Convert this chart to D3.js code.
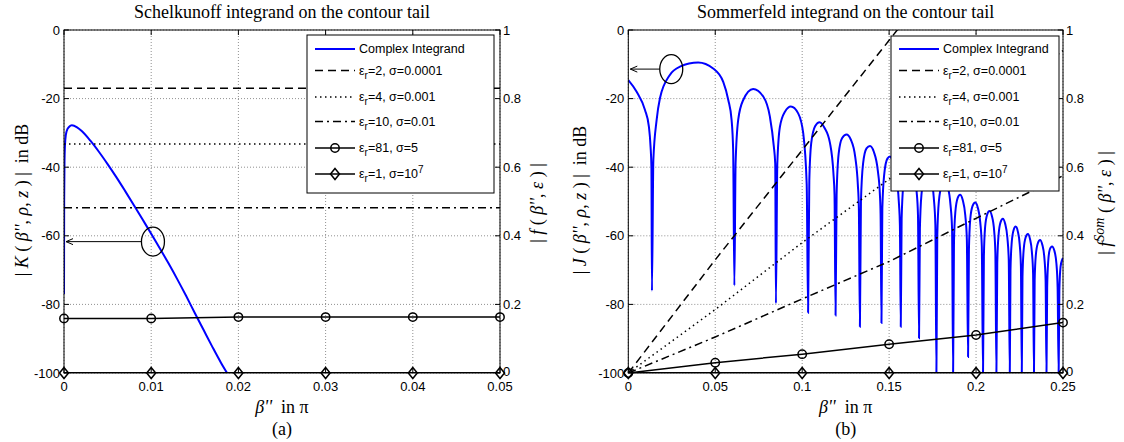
<!DOCTYPE html>
<html><head><meta charset="utf-8">
<script src="https://cdn.jsdelivr.net/npm/d3@7"></script>
<style>body{margin:0;background:#fff} svg{display:block} text{white-space:pre}</style>
</head><body>
<svg id="chart" width="1124" height="442"></svg>
<script>
// ---------------- DATA ----------------
const xTicksA = [0, 0.01, 0.02, 0.03, 0.04, 0.05];
const xTickLabelsA = ["0", "0.01", "0.02", "0.03", "0.04", "0.05"];
const xTicksB = [0, 0.05, 0.1, 0.15, 0.2, 0.25];
const xTickLabelsB = ["0", "0.05", "0.1", "0.15", "0.2", "0.25"];
const dbTicks = [0, -20, -40, -60, -80, -100];
const dbTickLabels = ["0", "-20", "-40", "-60", "-80", "-100"];
const fTicks = [0, 0.2, 0.4, 0.6, 0.8, 1];
const fTickLabels = ["0", "0.2", "0.4", "0.6", "0.8", "1"];

const titles = ["Schelkunoff integrand on the contour tail", "Sommerfeld integrand on the contour tail"];
const subLabels = ["(a)", "(b)"];

const legendFirst = "Complex Integrand";
const legendEr = ["2", "4", "10", "81", "1"];
const legendSigma = ["0.0001", "0.001", "0.01", "5", "10"];
const legendSigmaExp = ["", "", "", "", "7"];

// Panel (a): Schelkunoff integrand, |K| in dB (left axis)
const schelkunoffCurve = [
  [0, -77], [0.00002, -50], [0.00006, -38], [0.00015, -32], [0.0003, -29.5], [0.0006, -28.2],
  [0.0009, -27.8], [0.0015, -28.4], [0.002, -29.4], [0.003, -32.2], [0.004, -35.5], [0.005, -39.1],
  [0.006, -42.9], [0.007, -46.9], [0.008, -51.0], [0.009, -55.2], [0.010, -59.4], [0.011, -63.7],
  [0.012, -68.1], [0.013, -72.7], [0.014, -77.5], [0.015, -82.5], [0.016, -87.4], [0.017, -92.3],
  [0.018, -97], [0.0187, -100]
];
// Panel (a): |f(beta'',eps)| (right axis)
const schelkFX = [0, 0.01, 0.02, 0.03, 0.04, 0.05];
const schelkFEr2 = [0.83, 0.83, 0.83, 0.83, 0.83, 0.83];
const schelkFEr4 = [0.668, 0.668, 0.668, 0.668, 0.668, 0.668];
const schelkFEr10 = [0.482, 0.482, 0.482, 0.482, 0.482, 0.482];
const schelkFEr81 = [0.159, 0.159, 0.163, 0.163, 0.163, 0.163];
const schelkFEr1 = [0, 0, 0, 0, 0, 0];

// Panel (b): Sommerfeld integrand, |J| in dB (left axis)
const sommerfeldCurve = [
  [0, -14.6], [0.0048, -18], [0.0096, -23.3], [0.0118, -28], [0.0128, -34], [0.0133, -40], [0.0136, -76],
  [0.0144, -38], [0.0163, -26.2], [0.0182, -19.9], [0.0239, -13.1], [0.0297, -10.7], [0.0402, -9.5], [0.0488, -11.2], [0.0546, -15.1], [0.0575, -20.4], [0.0594, -26.2], [0.0603, -35], [0.061, -74.5],
  [0.0617, -39], [0.0632, -26.2], [0.0661, -20.4], [0.0718, -17.2], [0.0776, -19.4], [0.0814, -25.2], [0.0837, -34], [0.0845, -39], [0.0849, -79.7],
  [0.0857, -39], [0.0872, -28.2], [0.0901, -23.8], [0.0935, -22.3], [0.0977, -24.3], [0.1006, -30.1], [0.1026, -45], [0.1034, -82.4],
  [0.1041, -44], [0.1052, -33], [0.1075, -28], [0.110, -26.9], [0.1128, -28.5], [0.1160, -33], [0.1180, -42], [0.1186, -48], [0.1192, -83.2],
  [0.1198, -48], [0.1210, -36], [0.1230, -31.5], [0.1255, -30.5], [0.1280, -32], [0.1305, -37], [0.1320, -45], [0.1326, -52], [0.1332, -86.5],
  [0.1338, -50], [0.1350, -39], [0.1370, -34.5], [0.1390, -33.8], [0.1412, -35.5], [0.1435, -41], [0.1447, -48], [0.1451, -54], [0.1456, -85.4],
  [0.1461, -52], [0.1472, -42], [0.1490, -37.5], [0.1505, -36.9], [0.1522, -38.5], [0.1545, -44], [0.1557, -51], [0.1562, -57], [0.1567, -86.5],
  [0.1572, -55], [0.1582, -45], [0.1600, -40.2], [0.1620, -39.5], [0.1640, -41], [0.1658, -47], [0.1666, -54], [0.1672, -89.9],
  [0.1677, -58], [0.1686, -48], [0.1703, -43], [0.1722, -42], [0.1741, -43.5], [0.1757, -49], [0.1766, -57], [0.1772, -100],
  [0.1777, -60], [0.1786, -50], [0.1802, -45.5], [0.1820, -44.5], [0.1838, -46], [0.1853, -51], [0.1862, -58], [0.1868, -100],
  [0.1873, -62], [0.1881, -53], [0.1894, -49], [0.1908, -48], [0.1923, -49.5], [0.1938, -54], [0.1947, -61], [0.1954, -95.3],
  [0.1959, -64], [0.1967, -55], [0.1980, -51.3], [0.1995, -50.3], [0.2010, -51.8], [0.2024, -56], [0.2033, -63], [0.2040, -100],
  [0.2045, -66], [0.2052, -57.5], [0.2064, -53.8], [0.2077, -52.8], [0.2091, -54.2], [0.2104, -58.5], [0.2111, -65], [0.2117, -100],
  [0.2122, -68], [0.2129, -60], [0.2141, -56], [0.2154, -55], [0.2167, -56.4], [0.2180, -60.5], [0.2188, -67], [0.2194, -100],
  [0.2198, -70], [0.2205, -62], [0.2216, -58.3], [0.2228, -57.3], [0.2240, -58.7], [0.2251, -62.5], [0.2258, -69], [0.2263, -100],
  [0.2267, -72], [0.2274, -64], [0.2285, -60.5], [0.2298, -59.5], [0.2310, -60.9], [0.2321, -64.7], [0.2328, -71], [0.2333, -100],
  [0.2337, -73], [0.2344, -65.5], [0.2355, -62.2], [0.2368, -61.2], [0.2381, -62.6], [0.2393, -66.5], [0.2400, -73], [0.2405, -100],
  [0.2409, -75], [0.2415, -67.5], [0.2424, -64], [0.2437, -63.1], [0.2450, -64.3], [0.2462, -68], [0.2469, -75], [0.2475, -100],
  [0.2479, -76], [0.2486, -69], [0.2495, -67], [0.25, -66.5]
];
// Panel (b): |f^Som(beta'',eps)| (right axis)
const somFX = [0, 0.05, 0.1, 0.15, 0.2, 0.25];
const somFEr2 = [0, 0.33, 0.65, 0.97, 1.29, 1.61];
const somFEr4 = [0, 0.185, 0.38, 0.565, 0.75, 0.94];
const somFEr10 = [0, 0.105, 0.216, 0.325, 0.451, 0.575];
const somFEr81 = [0, 0.03, 0.055, 0.084, 0.111, 0.147];
const somFEr1 = [0, 0, 0, 0, 0, 0];

// annotation targets (data coords: beta, dB)
const annotA = [0.0102, -61.7];
const annotB = [0.0247, -11.4];

// ---------------- DRAW ----------------
const svg = d3.select("#chart");
const SERIF = "'Times New Roman', 'Liberation Serif', serif";
const SANS = "Arial, 'Liberation Sans', sans-serif";
const TOP = 30, BOT = 373;
const dashStyles = ["8,5", "1.5,3.5", "8,4,2,4", null, null];

const panels = [
  { x0: 64, x1: 500, domain: [0, 0.05], xt: xTicksA, xl: xTickLabelsA, curve: schelkunoffCurve,
    fx: schelkFX, f: [schelkFEr2, schelkFEr4, schelkFEr10, schelkFEr81, schelkFEr1],
    leg: { x: 307, y: 35, w: 187, h: 158, l1: 315, l2: 355, tx: 359 },
    annot: annotA, letter: "K", som: false, lblL: 22, lblR: 537 },
  { x0: 628.3, x1: 1063, domain: [0, 0.25], xt: xTicksB, xl: xTickLabelsB, curve: sommerfeldCurve,
    fx: somFX, f: [somFEr2, somFEr4, somFEr10, somFEr81, somFEr1],
    leg: { x: 891, y: 36, w: 168, h: 155, l1: 899, l2: 939, tx: 943 },
    annot: annotB, letter: "J", som: true, lblL: 580, lblR: 1105 }
];
const legRows = [49, 70.5, 97, 121.5, 148, 174];

const defs = svg.append("defs");

function diamondPath(cx, cy) {
  return `M${cx},${cy - 5.5}L${cx + 4.5},${cy}L${cx},${cy + 5.5}L${cx - 4.5},${cy}Z`;
}

panels.forEach((p, pi) => {
  const x = d3.scaleLinear().domain(p.domain).range([p.x0, p.x1]);
  const yDb = d3.scaleLinear().domain([-100, 0]).range([BOT, TOP]);
  const yF = d3.scaleLinear().domain([0, 1]).range([BOT, TOP]);
  const g = svg.append("g");

  defs.append("clipPath").attr("id", "clip" + pi).append("rect")
    .attr("x", p.x0).attr("y", TOP).attr("width", p.x1 - p.x0).attr("height", BOT - TOP);

  // grid
  const grid = g.append("g").attr("stroke", "#444").attr("stroke-width", 0.6).attr("stroke-dasharray", "1,2");
  p.xt.forEach(t => grid.append("line").attr("x1", x(t)).attr("x2", x(t)).attr("y1", TOP).attr("y2", BOT));
  dbTicks.forEach(t => grid.append("line").attr("x1", p.x0).attr("x2", p.x1).attr("y1", yDb(t)).attr("y2", yDb(t)));

  const clipG = g.append("g").attr("clip-path", `url(#clip${pi})`);
  // blue complex integrand
  clipG.append("path").datum(p.curve)
    .attr("d", d3.line().x(d => x(d[0])).y(d => yDb(d[1])).curve(d3.curveMonotoneX))
    .attr("fill", "none").attr("stroke", "#0000ff").attr("stroke-width", 2);
  // black f series
  p.f.forEach((vals, si) => {
    const pts = p.fx.map((v, i) => [v, vals[i]]);
    clipG.append("path").datum(pts)
      .attr("d", d3.line().x(d => x(d[0])).y(d => yF(d[1])))
      .attr("fill", "none").attr("stroke", "#000").attr("stroke-width", si === 4 ? 2 : 1.5)
      .attr("stroke-dasharray", dashStyles[si]);
  });
  // markers
  p.fx.forEach((v, i) => {
    g.append("circle").attr("cx", x(v)).attr("cy", yF(p.f[3][i])).attr("r", 4.2)
      .attr("fill", "none").attr("stroke", "#000").attr("stroke-width", 1.5);
    g.append("path").attr("d", diamondPath(x(v), yF(p.f[4][i])))
      .attr("fill", "none").attr("stroke", "#000").attr("stroke-width", 1.5);
  });

  // frame
  g.append("rect").attr("x", p.x0).attr("y", TOP).attr("width", p.x1 - p.x0).attr("height", BOT - TOP)
    .attr("fill", "none").attr("stroke", "#000").attr("stroke-width", 1);
  const ticks = g.append("g").attr("stroke", "#000").attr("stroke-width", 1);
  p.xt.forEach(t => {
    ticks.append("line").attr("x1", x(t)).attr("x2", x(t)).attr("y1", BOT).attr("y2", BOT - 5);
    ticks.append("line").attr("x1", x(t)).attr("x2", x(t)).attr("y1", TOP).attr("y2", TOP + 5);
  });
  dbTicks.forEach(t => ticks.append("line").attr("x1", p.x0).attr("x2", p.x0 + 5).attr("y1", yDb(t)).attr("y2", yDb(t)));
  fTicks.forEach(t => ticks.append("line").attr("x1", p.x1).attr("x2", p.x1 - 5).attr("y1", yF(t)).attr("y2", yF(t)));

  // tick labels
  const tl = g.append("g").attr("font-family", SANS).attr("font-size", 13).attr("fill", "#000");
  p.xt.forEach((t, i) => tl.append("text").attr("x", x(t)).attr("y", 386.5).attr("dy", "0.35em")
    .attr("text-anchor", "middle").text(p.xl[i]));
  dbTicks.forEach((t, i) => tl.append("text").attr("x", p.x0 - 4).attr("y", yDb(t)).attr("dy", "0.35em")
    .attr("text-anchor", "end").text(dbTickLabels[i]));
  fTicks.forEach((t, i) => tl.append("text").attr("x", p.x1 + 3).attr("y", yF(t) - (t === 0 ? 1.5 : 0)).attr("dy", "0.35em")
    .attr("text-anchor", "start").text(fTickLabels[i]));

  // title, x label, sub label
  const cx = (p.x0 + p.x1) / 2;
  g.append("text").attr("x", cx).attr("y", 18).attr("text-anchor", "middle")
    .attr("font-family", SERIF).attr("font-size", 18).text(titles[pi]);
  const xl = g.append("text").attr("x", cx).attr("y", 413).attr("text-anchor", "middle")
    .attr("font-family", SERIF).attr("font-size", 18);
  xl.append("tspan").attr("font-style", "italic").text("β''");
  xl.append("tspan").text("  in π");
  g.append("text").attr("x", cx).attr("y", 435).attr("text-anchor", "middle")
    .attr("font-family", SERIF).attr("font-size", 18).text(subLabels[pi]);

  // y labels
  const yl = g.append("text").attr("transform", `translate(${p.lblL},200) rotate(-90)`)
    .attr("text-anchor", "middle").attr("dy", "0.35em").attr("font-family", SERIF).attr("font-size", 18);
  yl.append("tspan").text("| ");
  yl.append("tspan").attr("font-style", "italic").text(p.letter);
  yl.append("tspan").text(" ( ");
  yl.append("tspan").attr("font-style", "italic").text("β''");
  yl.append("tspan").text(", ");
  yl.append("tspan").attr("font-style", "italic").text("ρ");
  yl.append("tspan").text(", ");
  yl.append("tspan").attr("font-style", "italic").text("z");
  yl.append("tspan").text(" ) |  in dB");

  const yr = g.append("text").attr("transform", `translate(${p.lblR},203) rotate(-90)`)
    .attr("text-anchor", "middle").attr("dy", "0.35em").attr("font-family", SERIF).attr("font-size", 18);
  yr.append("tspan").text("| ");
  yr.append("tspan").attr("font-style", "italic").text("f");
  if (p.som) {
    yr.append("tspan").attr("font-style", "italic").attr("font-size", 14).attr("dy", -7).text("Som");
    yr.append("tspan").attr("dy", 7).text(" ( ");
  } else {
    yr.append("tspan").text(" ( ");
  }
  yr.append("tspan").attr("font-style", "italic").text("β''");
  yr.append("tspan").text(", ");
  yr.append("tspan").attr("font-style", "italic").text("ε");
  yr.append("tspan").text(" ) |");

  // legend
  const L = p.leg;
  const lg = g.append("g");
  lg.append("rect").attr("x", L.x).attr("y", L.y).attr("width", L.w).attr("height", L.h)
    .attr("fill", "#fff").attr("stroke", "#000").attr("stroke-width", 1);
  legRows.forEach((ry, ri) => {
    const mid = (L.l1 + L.l2) / 2;
    if (ri === 0) {
      lg.append("line").attr("x1", L.l1).attr("x2", L.l2).attr("y1", ry).attr("y2", ry)
        .attr("stroke", "#0000ff").attr("stroke-width", 2);
    } else {
      lg.append("line").attr("x1", L.l1).attr("x2", L.l2).attr("y1", ry).attr("y2", ry)
        .attr("stroke", "#000").attr("stroke-width", 1.5).attr("stroke-dasharray", dashStyles[ri - 1]);
      if (ri === 4) lg.append("circle").attr("cx", mid).attr("cy", ry).attr("r", 4.2)
        .attr("fill", "none").attr("stroke", "#000").attr("stroke-width", 1.5);
      if (ri === 5) lg.append("path").attr("d", diamondPath(mid, ry))
        .attr("fill", "none").attr("stroke", "#000").attr("stroke-width", 1.5);
    }
    const t = lg.append("text").attr("x", L.tx).attr("y", ry).attr("dy", "0.35em")
      .attr("font-family", SANS).attr("font-size", 12.5);
    if (ri === 0) { t.text(legendFirst); return; }
    const k = ri - 1;
    t.append("tspan").text("ε");
    t.append("tspan").attr("font-size", 10).attr("dy", 4).text("r");
    t.append("tspan").attr("dy", -4).text("=" + legendEr[k] + ", σ=" + legendSigma[k]);
    if (legendSigmaExp[k]) t.append("tspan").attr("font-size", 10).attr("dy", -5).text(legendSigmaExp[k]);
  });

  // annotation: ellipse with arrow to the left axis
  const ax = x(p.annot[0]), ay = yDb(p.annot[1]);
  const an = g.append("g").attr("stroke", "#000").attr("fill", "none").attr("stroke-width", 1.3);
  an.append("ellipse").attr("cx", ax).attr("cy", ay).attr("rx", 11.5).attr("ry", 14.5);
  const ex = ax - 11.5, tipX = p.x0 + 2;
  an.append("line").attr("x1", ex).attr("x2", tipX).attr("y1", ay).attr("y2", ay).attr("stroke-width", 1);
  an.append("path").attr("d", `M${tipX + 7},${ay - 3}L${tipX},${ay}L${tipX + 7},${ay + 3}`).attr("stroke-width", 1);
});
</script>
</body></html>
